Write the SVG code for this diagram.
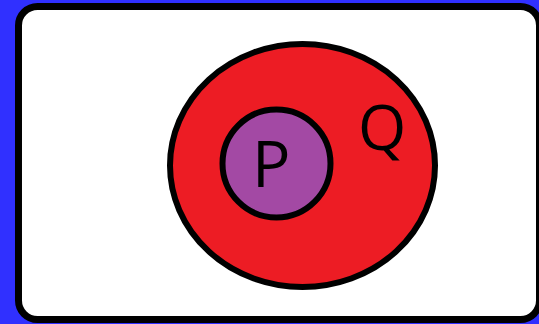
<svg xmlns="http://www.w3.org/2000/svg" width="539" height="324" viewBox="0 0 539 324">
<style>
.lbl{font-family:"Open Sans","Liberation Sans",sans-serif;fill:#000}
.shape{stroke:#000;stroke-width:6}
</style>
<rect x="0" y="0" width="539" height="324" fill="#3030ff"/>
<g id="universe"><rect x="18.5" y="6.5" width="521" height="313" rx="19" fill="#fff" stroke="#000" stroke-width="7"/></g>
<g id="Q"><ellipse class="shape" cx="302.5" cy="165.5" rx="132.5" ry="121.5" fill="#ed1c24"/>
<text class="lbl" x="358" y="150" font-size="62">Q</text></g>
<g id="P"><circle class="shape" cx="276.5" cy="163.5" r="54" fill="#a349a4"/>
<text class="lbl" x="252" y="187" font-size="64">P</text></g>
<g id="connectors"/>
</svg>
